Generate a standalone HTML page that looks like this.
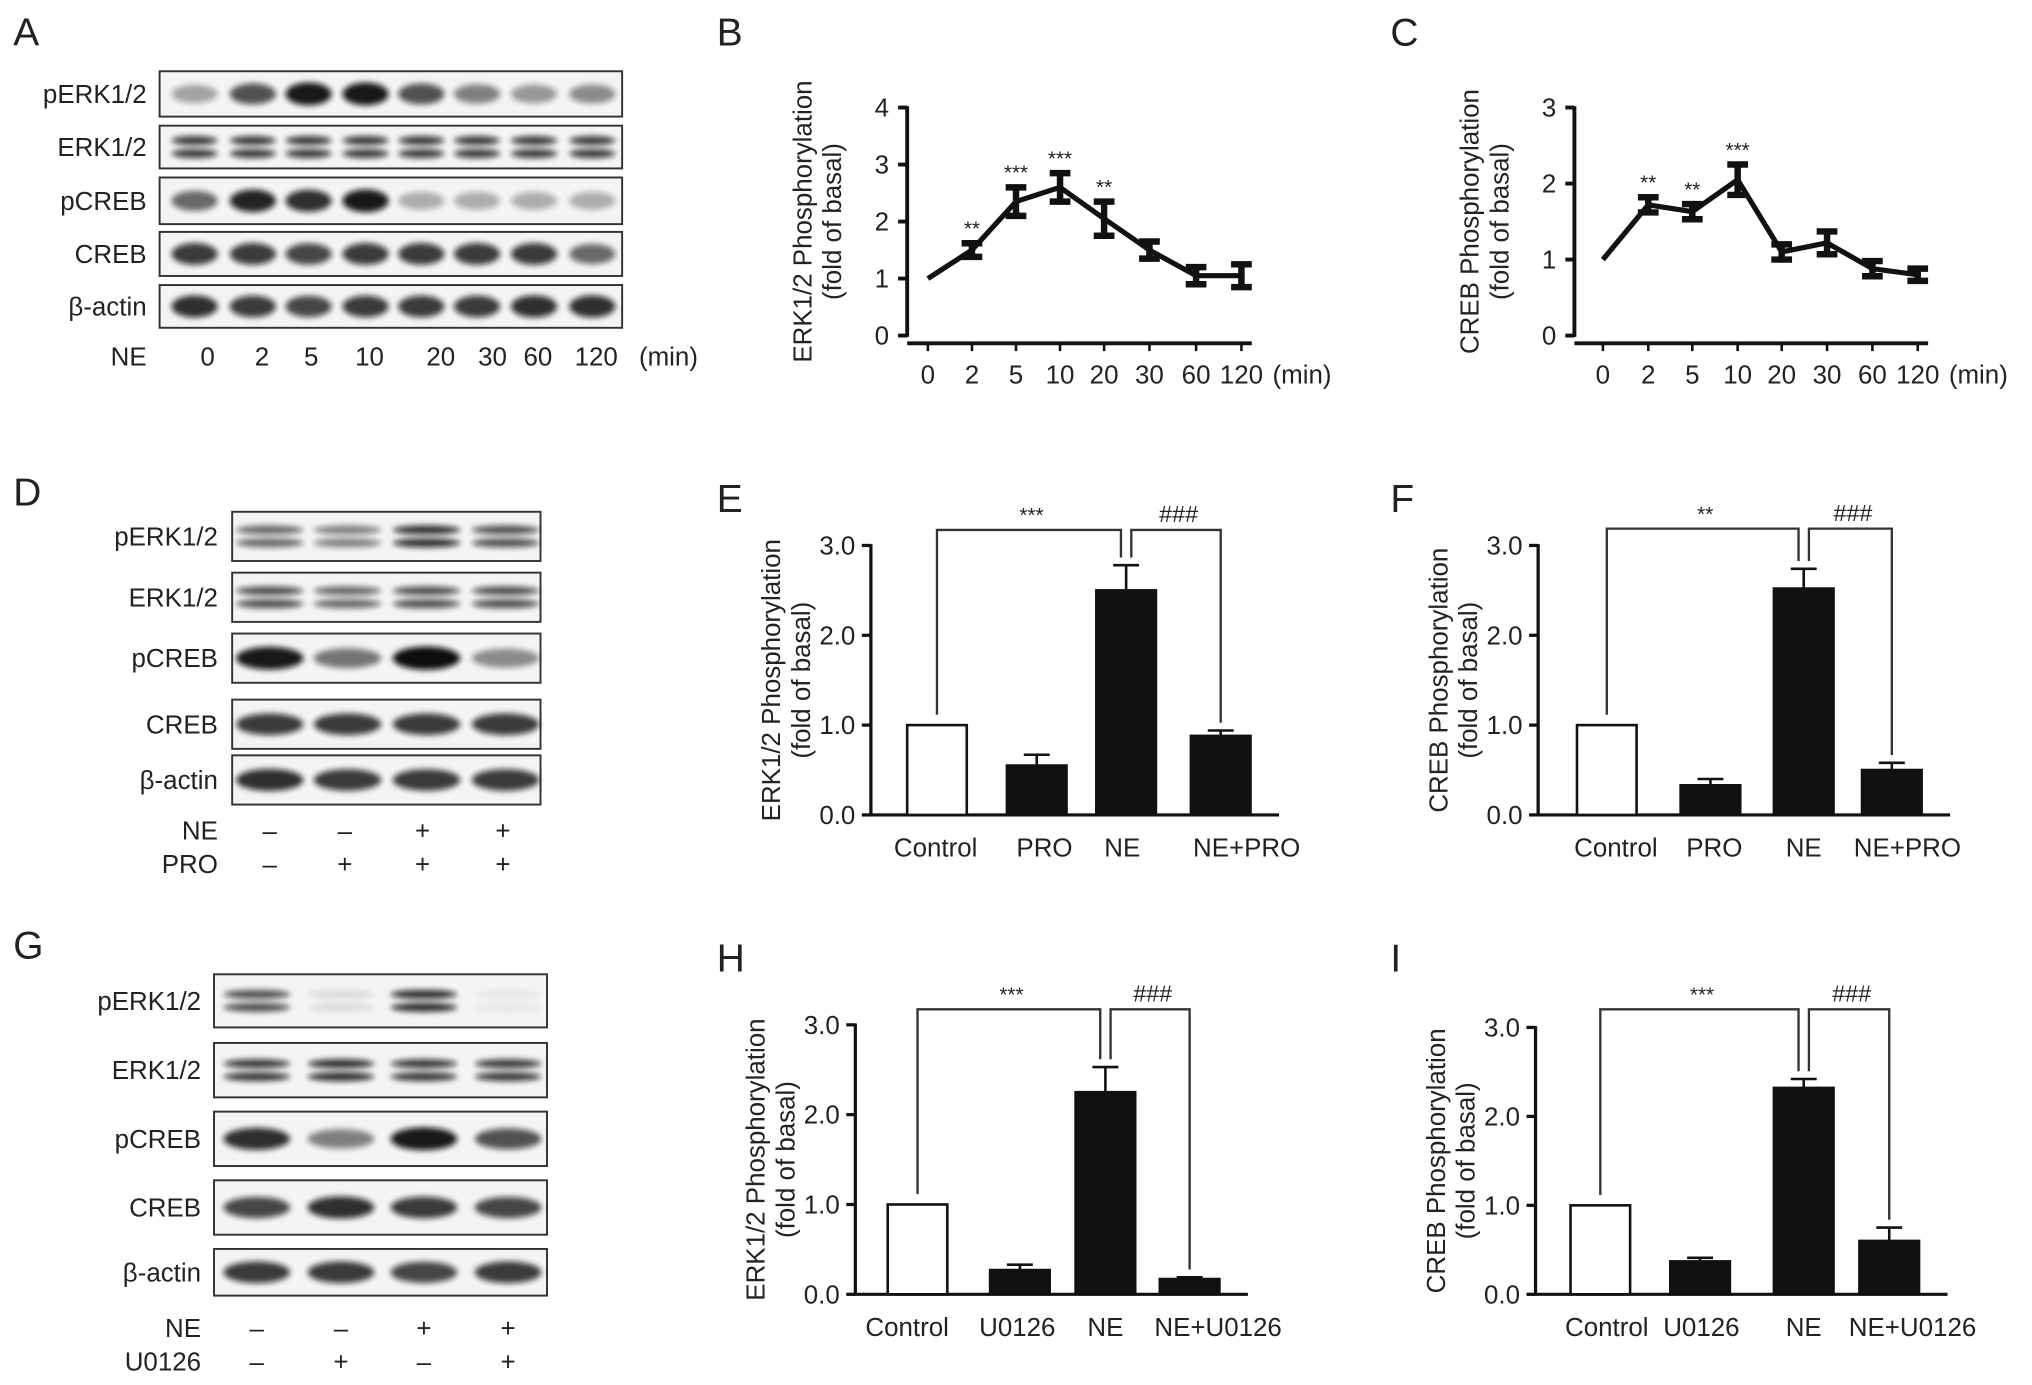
<!DOCTYPE html>
<html><head><meta charset="utf-8"><style>
html,body{margin:0;padding:0;background:#fff}
svg{display:block}
text{font-family:"Liberation Sans",Arial,sans-serif;fill:#222}
</style></head><body>
<svg id="fig" width="2032" height="1385" viewBox="0 0 1568 1069" xmlns="http://www.w3.org/2000/svg">
<defs><filter id="bl" x="-20%" y="-100%" width="140%" height="300%"><feGaussianBlur stdDeviation="2.2"/></filter></defs>
<g id="root"></g>
</svg>
<script>
// ---------- Data ----------
const timeLabels = ["0","2","5","10","20","30","60","120"];
const erkTimeVals = [1,1.5,2.35,2.6,2.05,1.5,1.05,1.05];
const erkTimeErr = [0,0.12,0.25,0.25,0.3,0.15,0.15,0.2];
const erkTimeStars = ["","**","***","***","**","","",""];
const crebTimeVals = [1,1.72,1.63,2.05,1.1,1.22,0.88,0.8];
const crebTimeErr = [0,0.1,0.1,0.2,0.1,0.15,0.1,0.08];
const crebTimeStars = ["","**","**","***","","","",""];
const proCats = ["Control","PRO","NE","NE+PRO"];
const erkProVals = [1,0.55,2.5,0.88];
const erkProErr = [0,0.12,0.28,0.06];
const crebProVals = [1,0.33,2.52,0.5];
const crebProErr = [0,0.07,0.22,0.08];
const uCats = ["Control","U0126","NE","NE+U0126"];
const erkUVals = [1,0.27,2.25,0.17];
const erkUErr = [0,0.06,0.28,0.02];
const crebUVals = [1,0.37,2.32,0.6];
const crebUErr = [0,0.04,0.1,0.15];
const yTicks4 = [0,1,2,3,4];
const yTicks3 = [0,1,2,3];
const barTicks = ["0.0","1.0","2.0","3.0"];

const NS="http://www.w3.org/2000/svg";
const root=document.getElementById('root');
function el(tag,attrs,parent,txt){const e=document.createElementNS(NS,tag);for(const k in attrs)e.setAttribute(k,attrs[k]);if(txt!==undefined)e.textContent=txt;(parent||root).appendChild(e);return e;}
const FS=20;

[["A",10,35],["B",553,35],["C",1073,35],["D",10,390],["E",553,395],["F",1073,395],["G",10,740],["H",553,750],["I",1073,750]].forEach(p=>{
  const t=el('text',{x:p[1],y:p[2],'font-size':30},root,p[0]);
  
  
});

// ---------- Blots ----------
function blot(name,x0,x1,rows,labelX,cols,intens,cond,condX,bw){
  const g=el('g',{});
  
  
  rows.forEach((r,ri)=>{
    const [lab,y0,y1,dbl]=r;
    const t=el('text',{x:labelX,y:(y0+y1)/2+7,'font-size':FS,'text-anchor':'end'},g,lab);
    
    
    el('rect',{x:x0,y:y0,width:x1-x0,height:y1-y0,fill:'#f4f4f4',stroke:'#333','stroke-width':1.5},g);
    cols.forEach((cx,ci)=>{
      const a=intens[ri][ci];
      const w=bw||(x1-x0)/cols.length*0.8;
      const ys=dbl?[(y0+y1)/2-5,(y0+y1)/2+5]:[(y0+y1)/2];
      ys.forEach(yy=>{
        el('ellipse',{cx:cx,cy:yy,rx:w/2,ry:dbl?3.5:6+a*3,fill:'#111',opacity:Math.min(1,a),filter:'url(#bl)'},g);
      });
    });
  });
  cond.forEach(c=>{
    const t=el('text',{x:labelX,y:c.y,'font-size':FS,'text-anchor':'end'},g,c.label);
    
    
    c.vals.forEach((v,i)=>el('text',{x:condX[i],y:c.y,'font-size':FS,'text-anchor':'middle'},g,v));
  });
  return g;
}
const colsA=[150,195,238,282,325,368,412,457];
blot('blot-panel-a',123,480,[["pERK1/2",55,90,0],["ERK1/2",97,130,1],["pCREB",137,173,0],["CREB",179,213,0],["β-actin",220,253,0]],113,colsA,
 [[.35,.7,.95,.95,.7,.5,.4,.45],[.8,.8,.8,.8,.8,.8,.8,.8],[.6,.9,.85,.95,.3,.3,.3,.3],[.8,.8,.75,.8,.8,.8,.8,.6],[.85,.8,.75,.8,.8,.8,.85,.85]],[],[]);
{const lab=el('text',{x:113,y:282,'font-size':FS,'text-anchor':'end'},root,'NE');
const xs=[160,202,240,285,340,380,415,460];timeLabels.forEach((t,i)=>el('text',{x:xs[i],y:282,'font-size':FS,'text-anchor':'middle'},root,t));
el('text',{x:493,y:282,'font-size':FS},root,'(min)');}
blot('blot-panel-d',179,417,[["pERK1/2",395,433,1],["ERK1/2",442,480,1],["pCREB",489,527,0],["CREB",540,578,0],["β-actin",583,621,0]],168,[208,268,329,390],
 [[.6,.5,.85,.7],[.7,.6,.7,.7],[.95,.55,1,.45],[.8,.8,.8,.8],[.85,.8,.8,.8]],[{label:"NE",y:648,vals:["–","–","+","+"]},{label:"PRO",y:674,vals:["–","+","+","+"]}],[208,266,326,388],52);
blot('blot-panel-g',165,422,[["pERK1/2",752,793,1],["ERK1/2",805,847,1],["pCREB",858,900,0],["CREB",911,953,0],["β-actin",964,1000,0]],155,[198,263,327,392],
 [[.7,.1,.85,.05],[.8,.85,.8,.8],[.85,.5,.95,.7],[.75,.85,.8,.75],[.8,.8,.75,.8]],[{label:"NE",y:1032,vals:["–","–","+","+"]},{label:"U0126",y:1058,vals:["–","+","–","+"]}],[198,263,327,392]);

// ---------- Line charts ----------
function lineChart(name,ax,y0,yTop,ticks,xs,vals,errs,stars,lab1){
  const g=el('g',{});
  
  
  const maxT=ticks[ticks.length-1];
  const Y=v=>y0-(v/maxT)*(y0-yTop);
  el('line',{x1:ax,y1:Y(0)+1,x2:ax,y2:Y(maxT)-1,stroke:'#111','stroke-width':3},g);
  ticks.forEach(t=>{el('line',{x1:ax-7,y1:Y(t),x2:ax,y2:Y(t),stroke:'#111','stroke-width':3},g);
    el('text',{x:ax-14,y:Y(t)+7,'font-size':FS,'text-anchor':'end'},g,String(t));});
  el('line',{x1:ax,y1:y0+6,x2:xs[xs.length-1]+8,y2:y0+6,stroke:'#111','stroke-width':3},g);
  xs.forEach((x,i)=>{el('line',{x1:x,y1:y0+6,x2:x,y2:y0+12,stroke:'#111','stroke-width':2},g);
    el('text',{x:x,y:y0+37,'font-size':FS,'text-anchor':'middle'},g,timeLabels[i]);});
  el('text',{x:xs[xs.length-1]+24,y:y0+37,'font-size':FS},g,'(min)');
  const pts=vals.map((v,i)=>xs[i]+','+Y(v)).join(' ');
  el('polyline',{points:pts,fill:'none',stroke:'#111','stroke-width':4},g);
  vals.forEach((v,i)=>{
    const e=errs[i];
    if(e>0){el('line',{x1:xs[i],y1:Y(v-e),x2:xs[i],y2:Y(v+e),stroke:'#111','stroke-width':5},g);
      [v-e,v+e].forEach(q=>el('line',{x1:xs[i]-8,y1:Y(q),x2:xs[i]+8,y2:Y(q),stroke:'#111','stroke-width':5},g));}
    if(stars[i])el('text',{x:xs[i],y:Y(v+e)-6,'font-size':16,'text-anchor':'middle'},g,stars[i]);
  });
  const cy=(y0+Y(maxT))/2;
  el('text',{x:0,y:0,'font-size':FS,'text-anchor':'middle',transform:`translate(${ax-74},${cy}) rotate(-90)`},g,lab1);
  el('text',{x:0,y:0,'font-size':FS,'text-anchor':'middle',transform:`translate(${ax-51},${cy}) rotate(-90)`},g,'(fold of basal)');
}
lineChart('line-chart-erk-time',700,259,83,yTicks4,[716,750,784,818,852,887,923,958],erkTimeVals,erkTimeErr,erkTimeStars,'ERK1/2 Phosphorylation');
lineChart('line-chart-creb-time',1215,259,83,yTicks3,[1237,1272,1306,1341,1375,1410,1445,1480],crebTimeVals,crebTimeErr,crebTimeStars,'CREB Phosphorylation');

// ---------- Bar charts ----------
function barChart(name,ax,y0,yTop,xs,lx,cats,vals,errs,lab1,sig1,sig2,brY){
  const g=el('g',{});
  
  
  const Y=v=>y0-(v/3)*(y0-yTop);
  el('line',{x1:ax,y1:y0+1,x2:ax,y2:Y(3)-1,stroke:'#111','stroke-width':2.5},g);
  barTicks.forEach((t,i)=>{el('line',{x1:ax-7,y1:Y(i),x2:ax,y2:Y(i),stroke:'#111','stroke-width':2.5},g);
    el('text',{x:ax-12,y:Y(i)+7,'font-size':FS,'text-anchor':'end'},g,t);});
  el('line',{x1:ax,y1:y0,x2:xs[3]+45,y2:y0,stroke:'#111','stroke-width':2.5},g);
  const w=46;
  vals.forEach((v,i)=>{
    const b=el('rect',{x:xs[i]-w/2,y:Y(v),width:w,height:y0-Y(v),fill:i===0?'#fff':'#111',stroke:'#111','stroke-width':2},g);
    
    
    if(errs[i]>0){el('line',{x1:xs[i],y1:Y(v),x2:xs[i],y2:Y(v+errs[i]),stroke:'#111','stroke-width':2},g);
      el('line',{x1:xs[i]-10,y1:Y(v+errs[i]),x2:xs[i]+10,y2:Y(v+errs[i]),stroke:'#111','stroke-width':2},g);}
    el('text',{x:lx[i],y:y0+32,'font-size':FS,'text-anchor':'middle'},g,cats[i]);
  });
  el('polyline',{points:`${xs[0]},${Y(vals[0])-8} ${xs[0]},${brY} ${xs[2]-4},${brY} ${xs[2]-4},${Y(vals[2]+errs[2])-6}`,fill:'none',stroke:'#333','stroke-width':1.8},g);
  el('polyline',{points:`${xs[2]+4},${Y(vals[2]+errs[2])-6} ${xs[2]+4},${brY} ${xs[3]},${brY} ${xs[3]},${Y(vals[3]+errs[3])-6}`,fill:'none',stroke:'#333','stroke-width':1.8},g);
  el('text',{x:(xs[0]+xs[2])/2,y:brY-6,'font-size':16,'text-anchor':'middle'},g,sig1);
  el('text',{x:(xs[2]+xs[3])/2+4,y:brY-6,'font-size':18,'text-anchor':'middle'},g,sig2);
  const cy=(y0+Y(3))/2;
  el('text',{x:0,y:0,'font-size':FS,'text-anchor':'middle',transform:`translate(${ax-70},${cy}) rotate(-90)`},g,lab1);
  el('text',{x:0,y:0,'font-size':FS,'text-anchor':'middle',transform:`translate(${ax-47},${cy}) rotate(-90)`},g,'(fold of basal)');
}
barChart('bar-chart-erk-pro',672,629,421,[723,800,869,942],[722,806,866,962],proCats,erkProVals,erkProErr,'ERK1/2 Phosphorylation','***','###',409);
barChart('bar-chart-creb-pro',1187,629,421,[1240,1320,1392,1460],[1247,1323,1392,1472],proCats,crebProVals,crebProErr,'CREB Phosphorylation','**','###',408);
barChart('bar-chart-erk-u0126',660,999,791,[708,787,853,918],[700,785,853,940],uCats,erkUVals,erkUErr,'ERK1/2 Phosphorylation','***','###',779);
barChart('bar-chart-creb-u0126',1185,999,793,[1235,1312,1392,1458],[1240,1313,1392,1476],uCats,crebUVals,crebUErr,'CREB Phosphorylation','***','###',779);
</script>
</body></html>
